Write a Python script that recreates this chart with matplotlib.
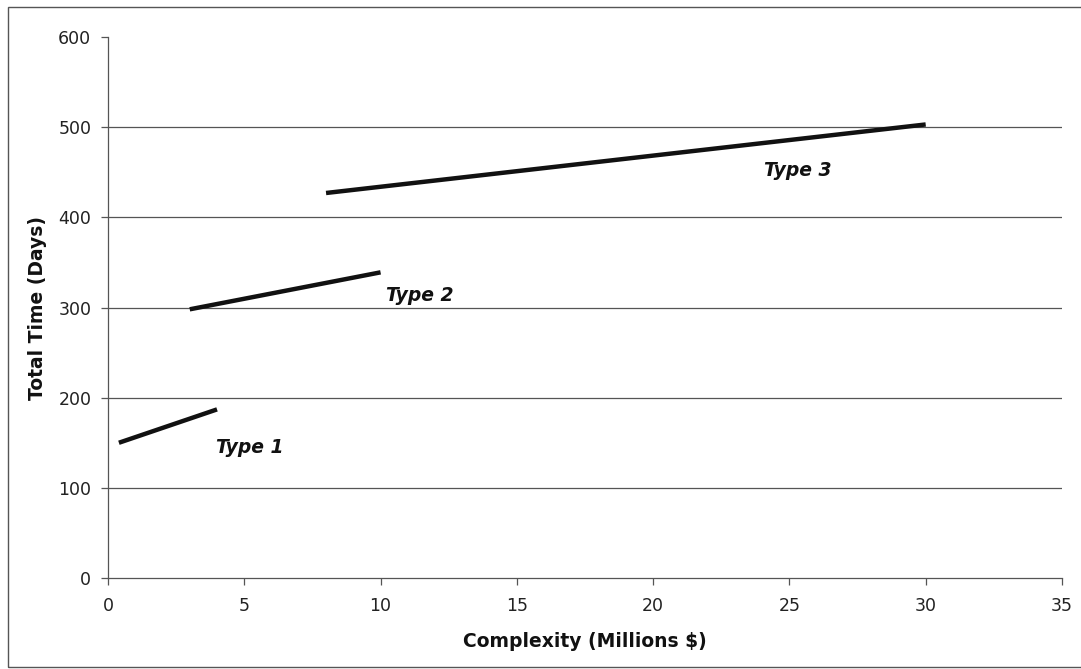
import matplotlib
matplotlib.use("Agg")
import matplotlib.pyplot as plt
from matplotlib.patches import Rectangle

# data
series_names = ["Type 1", "Type 2", "Type 3"]
x_start = [0.4, 3.0, 8.0]
x_end = [4.0, 10.0, 30.0]
y_start = [150, 298, 427]
y_end = [187, 339, 503]
label_pos = [(5.2, 145), (11.45, 313), (25.3, 452)]

x_ticks = [0, 5, 10, 15, 20, 25, 30, 35]
y_ticks = [0, 100, 200, 300, 400, 500, 600]

plt.rcParams['font.family'] = ['DejaVu Sans']

fig = plt.figure(figsize=(10.81, 6.69), dpi=100)
ax = fig.add_axes([0.0999, 0.136, 0.8825, 0.8087])

# outer frame of the chart area
fig.patches.append(Rectangle((8 / 1081, 2 / 669), 1.0, 660 / 669,
                             transform=fig.transFigure, fill=False,
                             edgecolor="#555555", linewidth=1.0))

for yv in y_ticks[1:-1]:
    ax.axhline(yv, color="#555555", linewidth=0.9, zorder=1)

for i in range(len(series_names)):
    ax.plot([x_start[i], x_end[i]], [y_start[i], y_end[i]],
            color="#111111", linewidth=3.2, solid_capstyle="butt", zorder=3)
    ax.text(label_pos[i][0], label_pos[i][1], series_names[i],
            fontsize=13.5, fontweight="bold", fontstyle="italic",
            color="#111111", ha="center", va="center")

ax.set_xlim(0, 35)
ax.set_ylim(0, 600)
ax.set_xticks(x_ticks)
ax.set_yticks(y_ticks)
ax.tick_params(axis="both", labelsize=12.5, colors="#222222", length=5,
               width=0.9, color="#555555", pad=7)
ax.tick_params(axis="x", pad=9)

for side in ["top", "right"]:
    ax.spines[side].set_visible(False)
for side in ["left", "bottom"]:
    ax.spines[side].set_color("#555555")
    ax.spines[side].set_linewidth(0.9)

ax.set_xlabel("Complexity (Millions $)", fontsize=13.5, fontweight="bold",
              color="#111111", labelpad=12)
ax.set_ylabel("Total Time (Days)", fontsize=13.5, fontweight="bold",
              color="#111111", labelpad=8)

fig.savefig("out.png", dpi=100)
